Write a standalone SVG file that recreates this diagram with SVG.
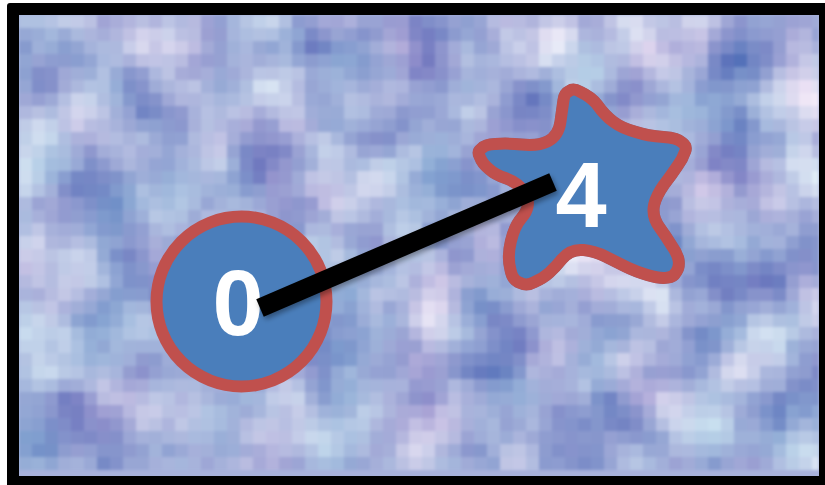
<svg xmlns="http://www.w3.org/2000/svg" width="825" height="485" viewBox="0 0 825 485">
  <style>
    .shape { fill: #4a7ebb; stroke: #c0504d; }
    .label { fill: #ffffff; font-family: "Liberation Sans", Arial, sans-serif; font-weight: bold; font-size: 92px; text-anchor: middle; }
    .edge { stroke: #000000; stroke-width: 19; stroke-linecap: butt; fill: none; }
  </style>
  <defs>
    <filter id="mosaic" filterUnits="userSpaceOnUse" x="19" y="15" width="800" height="461" color-interpolation-filters="sRGB">
      <feTurbulence type="fractalNoise" baseFrequency="0.013" numOctaves="3" seed="7" result="noise"/>
      <feColorMatrix in="noise" type="matrix" values="0.8 0.15 0 0 0.16  0.72 -0.05 0 0 0.35  0.36 0 0 0 0.67  0 0 0 0 1" result="col"/>
      <feFlood x="25" y="21" width="1" height="1" flood-color="#ffffff" result="dot"/>
      <feComposite in="dot" width="13" height="13" result="cell"/>
      <feTile in="cell" result="grid"/>
      <feComposite in="col" in2="grid" operator="in" result="samples"/>
      <feMorphology in="samples" operator="dilate" radius="6" result="blocks"/>
      <feGaussianBlur in="blocks" stdDeviation="1.8"/>
    </filter>
    <path id="starPath" d="M566,86 Q573,81 583,86.5 Q595,92 602,101 Q609,111 617,117 Q625,123 637,126 Q649,130 664,131 Q680,132 686,138 Q694,144 691,153 Q688,162 682,170 Q676,179 669,188 Q662,198 660,206 Q658,215 664.5,224 Q671,233 676.5,242 Q683,251 684.5,259 Q686,268 681.5,275 Q677,283 668.5,283.5 Q660,285 646.5,281 Q633,277 623,272 Q613,267 603,262 Q593,257 583,256 Q573,255 566.5,263 Q560,271 553.5,277 Q547,283 537,287.5 Q527,293 518,288.5 Q507,285 504.5,270.5 Q501,257 505,240 Q509,223 517,214 Q525,205 520,196.5 Q515,188 504,184 Q492,180 485,173.5 Q477,167 474,158.5 Q470,150 477,144.5 Q483,138 495,138 Q507,137 522,138.5 Q537,140 545,136 Q553,132 554.5,121 Q556,110 557.5,99.5 Q559,89 566,86 Z"/>
    <clipPath id="starClip"><use href="#starPath"/></clipPath>
    <filter id="shadow" x="-20%" y="-50%" width="140%" height="200%">
      <feDropShadow dx="2" dy="3" stdDeviation="2.5" flood-color="#000" flood-opacity="0.35"/>
    </filter>
  </defs>

  <g id="frame">
    <rect x="7" y="3" width="830" height="495" rx="3" fill="#000000"/>
    <rect x="19" y="15" width="800" height="461" fill="#a8b2dc"/>
    <rect x="19" y="15" width="800" height="461" fill="#a8b2dc" filter="url(#mosaic)"/>
  </g>

  <g id="node-0">
    <circle class="shape" cx="241.5" cy="301.5" r="85" stroke-width="12"/>
    <text class="label" x="238" y="335">0</text>
  </g>

  <g id="node-4">
    <use href="#starPath" class="shape" stroke-width="24" clip-path="url(#starClip)"/>
    <text class="label" x="581" y="227">4</text>
  </g>

  <g id="connectors">
    <line class="edge" x1="260" y1="308" x2="553" y2="182" filter="url(#shadow)"/>
  </g>
</svg>
